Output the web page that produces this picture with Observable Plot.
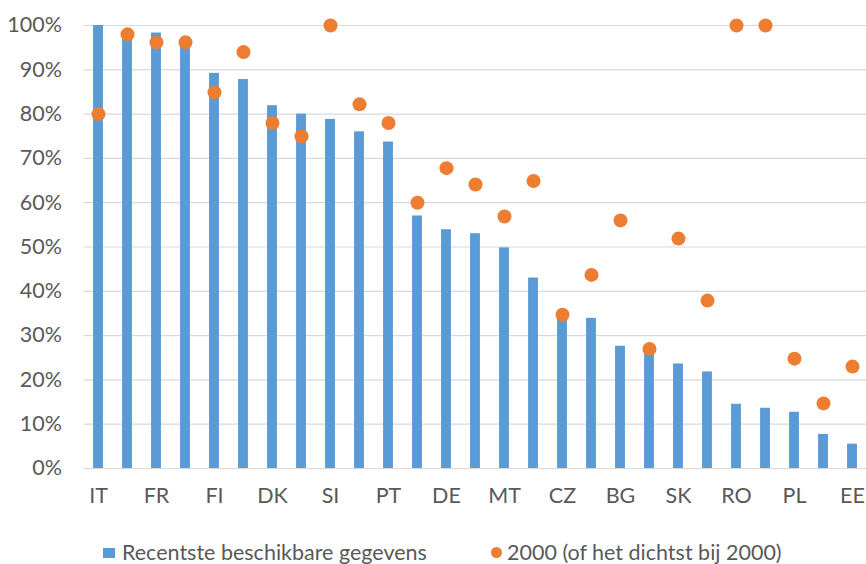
<!DOCTYPE html>
<html>
<head>
<meta charset="utf-8">
<script src="https://cdn.jsdelivr.net/npm/d3@7"></script>
<script src="https://cdn.jsdelivr.net/npm/@observablehq/plot@0.6"></script>
<style>
  html, body { margin: 0; padding: 0; background: #fff; }
  #wrap { width: 866px; position: relative; font-family: Lato, "Open Sans", sans-serif; color: #595959; }
  #legend { position: relative; height: 54px; font-size: 21.5px; }
  .item { position: absolute; top: 32px; display: flex; align-items: center; white-space: nowrap; line-height: 1; }
  .sq { width: 12px; height: 10px; background: #5B9BD5; margin-right: 7px; }
  .dt { width: 11px; height: 11px; border-radius: 50%; background: #ED7D31; margin-right: 5px; }
</style>
</head>
<body>
<div id="wrap">
  <div id="chart"></div>
  <div id="legend">
    <div class="item" style="left:103px"><span class="sq"></span><span id="l1"></span></div>
    <div class="item" style="left:491px"><span class="dt"></span><span id="l2"></span></div>
  </div>
</div>
<script>
const countries = ["IT","AT","FR","BE","FI","SE","DK","NL","SI","ES","PT","LU","DE","HR","MT","EL","CZ","IE","BG","CY","SK","HU","RO","LV","PL","LT","EE"];
const shownLabels = ["IT","FR","FI","DK","SI","PT","DE","MT","CZ","BG","SK","RO","PL","EE"];
const recent = [100, 98, 98.3, 96, 89.2, 87.8, 81.9, 80, 78.8, 76, 73.7, 57, 53.9, 53, 49.8, 43, 34, 33.9, 27.6, 26.5, 23.6, 21.8, 14.5, 13.6, 12.7, 7.7, 5.5];
const year2000 = [80, 98, 96.2, 96.2, 84.9, 94, 78, 75, 100, 82.2, 78, 60, 67.8, 64.1, 56.9, 64.9, 34.7, 43.7, 56, 27, 51.9, 37.9, 100, 100, 24.8, 14.7, 23];
const yTicks = [0, 0.1, 0.2, 0.3, 0.4, 0.5, 0.6, 0.7, 0.8, 0.9, 1];
const seriesNames = ["Recentste beschikbare gegevens", "2000 (of het dichtst bij 2000)"];

document.getElementById("l1").textContent = seriesNames[0];
document.getElementById("l2").textContent = seriesNames[1];

const rows = countries.map((c, i) => ({country: c, recent: recent[i] / 100, y2000: year2000[i] / 100}));

const chart = Plot.plot({
  width: 866,
  height: 510,
  marginLeft: 83.5,
  marginRight: 0,
  marginTop: 25,
  marginBottom: 42,
  style: {fontFamily: "Lato, 'Open Sans', sans-serif", fontSize: "21.5px", color: "#595959", background: "#fff"},
  x: {type: "band", domain: countries, range: [83.5, 866.5], paddingInner: 0.66, paddingOuter: 0.33, align: 0.5, round: false, label: null},
  y: {domain: [0, 1], label: null},
  marks: [
    Plot.ruleY(yTicks, {stroke: "#d9d9d9", strokeWidth: 1.2}),
    Plot.barY(rows, {x: "country", y: "recent", fill: "#5B9BD5"}),
    Plot.dot(rows, {x: "country", y: "y2000", r: 7, fill: "#ED7D31", stroke: "none"}),
    Plot.axisY(yTicks, {tickSize: 0, tickPadding: 22, tickFormat: d3.format(".0%"), fill: "#595959", fontSize: 21.5, label: null}),
    Plot.axisX({tickSize: 0, tickPadding: 19, tickFormat: d => shownLabels.includes(d) ? d : "", fill: "#595959", fontSize: 21.5, label: null})
  ]
});
document.getElementById("chart").appendChild(chart);
</script>
</body>
</html>
